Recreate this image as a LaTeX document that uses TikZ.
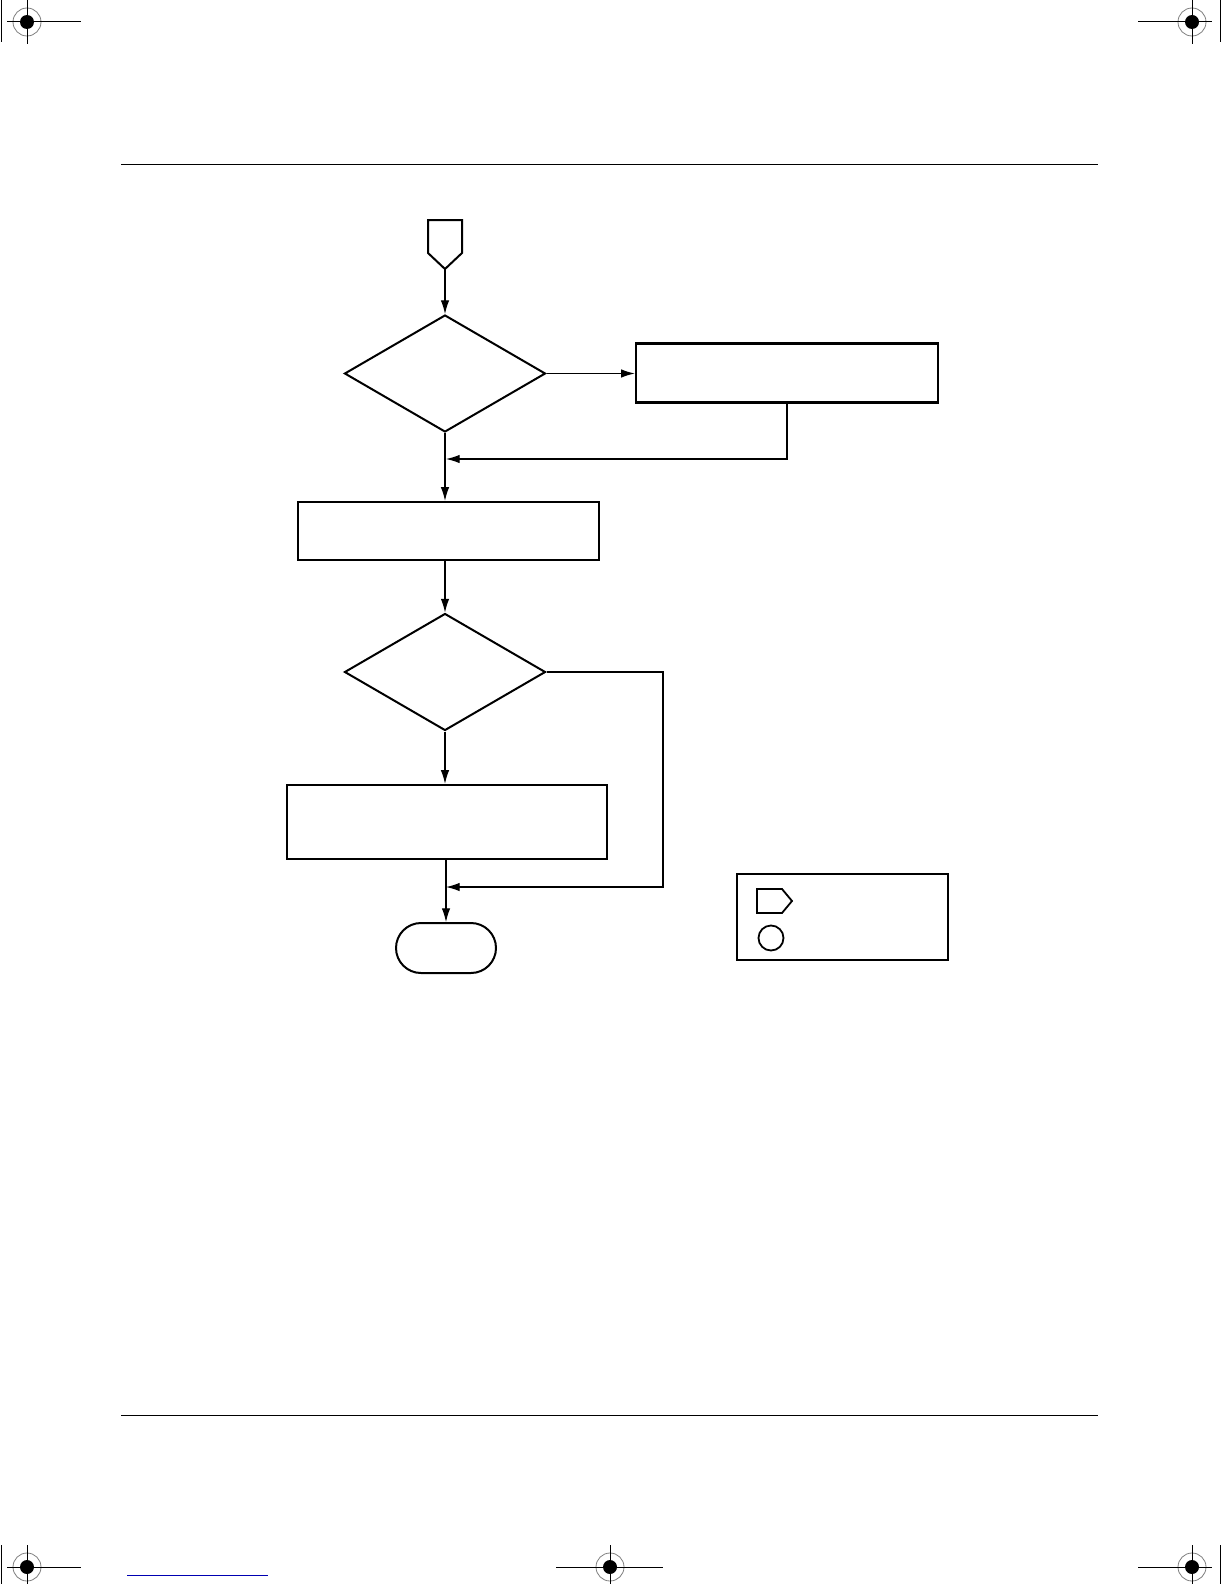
\documentclass[tikz,border=0pt]{standalone}
\usetikzlibrary{arrows.meta,shapes.geometric}
\tikzset{
  box/.style={draw, line width=1.2pt, rectangle, inner sep=0pt},
  dec/.style={draw, line width=1pt, diamond, inner sep=0pt, minimum width=100.5pt, minimum height=58.5pt},
  term/.style={draw, line width=1pt, rectangle, rounded corners=12.5pt, inner sep=0pt, minimum width=50pt, minimum height=25pt},
  arr/.style={-{Latex[length=6.8pt,width=4.2pt]}, line width=0.55pt},
  conn/.style={line width=0.55pt},
  regmark/.pic={
    \draw[gray, line width=0.4pt] (0,0) circle[radius=14];
    \fill[black] (0,0) circle[radius=7];
    \draw[line width=0.5pt] (0,-22) -- (0,22);
  }
}
\begin{document}
\begin{tikzpicture}[x=0.5pt,y=-0.5pt]
\useasboundingbox (0,0) rectangle (1224,1584);
\fill[white] (0,0) rectangle (1224,1584);

% registration marks
\pic at (27,22) {regmark};
\draw[line width=0.5pt] (7,22) -- (81,22);
\draw[line width=0.5pt] (1,0) -- (1,42);
\pic at (1192,22) {regmark};
\draw[line width=0.5pt] (1138,22) -- (1212,22);
\draw[line width=0.5pt] (1220.5,0) -- (1220.5,42);
\pic at (27,1567) {regmark};
\draw[line width=0.5pt] (7,1567) -- (81,1567);
\draw[line width=0.5pt] (1,1545) -- (1,1584);
\pic at (610,1567) {regmark};
\draw[line width=0.5pt] (556,1567) -- (663,1567);
\pic at (1192,1567) {regmark};
\draw[line width=0.5pt] (1138,1567) -- (1212,1567);
\draw[line width=0.5pt] (1220.5,1545) -- (1220.5,1584);
\draw[line width=0.5pt, blue!70!black] (127,1575) -- (268,1575);

% page rules
\draw[line width=0.5pt] (121,164) -- (1098,164);
\draw[line width=0.5pt] (121,1415) -- (1098,1415);

% off-page connector
\draw[line width=1pt, line join=miter] (428,220) -- (462,220) -- (462,253) -- (445,269) -- (428,253) -- cycle;
\coordinate (start) at (445,269);

% nodes
\node[dec] (d1) at (445,373.5) {};
\node[box, minimum width=151pt, minimum height=29.5pt] (r1) at (787,373) {};
\node[box, minimum width=150.5pt, minimum height=29pt] (r2) at (448.5,531) {};
\node[dec] (d2) at (445,672) {};
\node[box, minimum width=160pt, minimum height=37pt] (r3) at (447,822) {};
\node[term] (t) at (446,948) {};

% connectors
\coordinate (m1) at (446,459);
\coordinate (m2) at (446,887);
\coordinate (k2) at (663,887);
\draw[arr] (start) -- (d1.north);
\draw[arr] (d1.east) -- (r1.west |- d1.east);
\draw[arr] (r1.south) |- (m1);
\draw[arr] (d1.south) -- (r2.north -| d1.south);
\draw[arr] (r2.south -| d2.north) -- (d2.north);
\draw[arr] (d2.south) -- (r3.north -| d2.south);
\draw[arr] (d2.east) -| (k2) -- (m2);
\draw[arr] (r3.south -| t.north) -- (t.north);

% legend
\node[draw, line width=0.6pt, rectangle, inner sep=0pt, minimum width=105.5pt, minimum height=43pt] (leg) at (842.5,917) {};
\draw[line width=0.9pt, line join=miter] (757,889) -- (782,889) -- (792,901) -- (782,913) -- (757,913) -- cycle;
\draw[line width=0.9pt] (771,938) circle[radius=12.5];
\end{tikzpicture}
\end{document}
